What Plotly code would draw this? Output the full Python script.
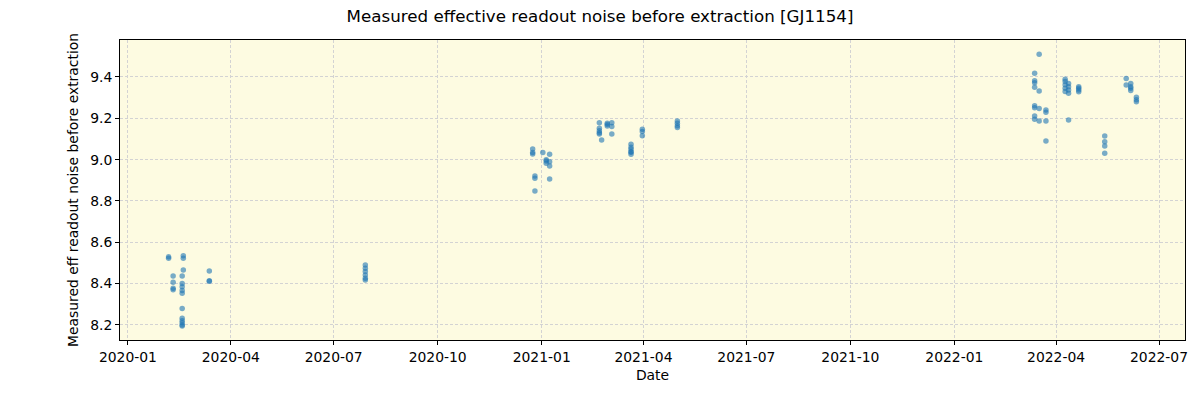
import plotly.graph_objects as go

dates = (
    ["2020-02-06"] * 2
    + ["2020-02-10"] * 4
    + ["2020-02-19"] * 3
    + ["2020-02-18"] * 11
    + ["2020-03-13"] * 3
    + ["2020-07-29"] * 6
    + ["2020-12-24"] * 3
    + ["2020-12-26"] * 3
    + ["2021-01-02"] * 1
    + ["2021-01-05"] * 3
    + ["2021-01-08"] * 4
    + ["2021-02-21"] * 5
    + ["2021-02-23"] * 1
    + ["2021-02-28"] * 3
    + ["2021-03-04"] * 3
    + ["2021-03-21"] * 6
    + ["2021-03-31"] * 3
    + ["2021-05-01"] * 4
    + ["2022-03-13"] * 8
    + ["2022-03-17"] * 4
    + ["2022-03-23"] * 4
    + ["2022-04-09"] * 5
    + ["2022-04-12"] * 5
    + ["2022-04-21"] * 4
    + ["2022-05-14"] * 4
    + ["2022-06-02"] * 2
    + ["2022-06-06"] * 4
    + ["2022-06-11"] * 3
)

values = (
    [8.523, 8.530]
    + [8.437, 8.406, 8.378, 8.370]
    + [8.535, 8.523, 8.466]
    + [8.437, 8.400, 8.385, 8.366, 8.353, 8.280, 8.232, 8.220, 8.210, 8.200, 8.195]
    + [8.461, 8.411, 8.414]
    + [8.490, 8.474, 8.458, 8.442, 8.426, 8.418]
    + [9.051, 9.035, 9.027]
    + [8.921, 8.910, 8.848]
    + [9.035]
    + [9.000, 8.993, 8.982]
    + [9.026, 8.990, 8.969, 8.906]
    + [9.179, 9.152, 9.140, 9.130, 9.124]
    + [9.095]
    + [9.176, 9.163, 9.170]
    + [9.179, 9.160, 9.124]
    + [9.074, 9.060, 9.050, 9.038, 9.036, 9.026]
    + [9.147, 9.136, 9.115]
    + [9.187, 9.176, 9.164, 9.156]
    + [9.418, 9.382, 9.372, 9.350, 9.261, 9.251, 9.211, 9.195]
    + [9.510, 9.332, 9.248, 9.187]
    + [9.240, 9.229, 9.187, 9.090]
    + [9.389, 9.378, 9.362, 9.346, 9.330]
    + [9.369, 9.353, 9.337, 9.321, 9.192]
    + [9.353, 9.345, 9.337, 9.329]
    + [9.114, 9.087, 9.066, 9.031]
    + [9.393, 9.361]
    + [9.353, 9.369, 9.345, 9.334]
    + [9.302, 9.290, 9.280]
)

title = "Measured effective readout noise before extraction [GJ1154]"
x_label = "Date"
y_label = "Measured eff readout noise before extraction"

fig = go.Figure()
fig.add_trace(go.Scatter(
    x=dates, y=values, mode="markers",
    marker=dict(size=5.5, color="rgba(31,119,180,0.6)", line=dict(width=0)),
    showlegend=False,
))

font = "DejaVu Sans, sans-serif"
axis_common = dict(
    showline=True, linecolor="black", linewidth=1, mirror=True,
    ticks="outside", ticklen=4, tickcolor="black",
    showgrid=True, gridcolor="#d3d3d3", griddash="3px,2px", gridwidth=1,
    zeroline=False, tickfont=dict(size=13.9, color="black", family=font),
)

fig.update_layout(
    width=1200, height=400,
    margin=dict(l=120, r=12, t=40, b=60),
    paper_bgcolor="white",
    plot_bgcolor="#fdfbe1",
    font=dict(family=font, color="black"),
    title=dict(text=title, x=0.5, xanchor="center", y=0.975, yanchor="top",
               font=dict(size=16.7, color="black", family=font)),
    xaxis=dict(
        **axis_common,
        type="date",
        range=["2019-12-25", "2022-07-24"],
        tick0="2020-01-01", dtick="M3", tickformat="%Y-%m",
        title=dict(text=x_label, font=dict(size=13.9, family=font), standoff=6),
    ),
    yaxis=dict(
        **axis_common,
        range=[8.127, 9.579],
        tick0=8.2, dtick=0.2, tickformat=".1f",
        title=dict(text=y_label, font=dict(size=13.9, family=font), standoff=8),
    ),
)

fig.write_html("out.html")
